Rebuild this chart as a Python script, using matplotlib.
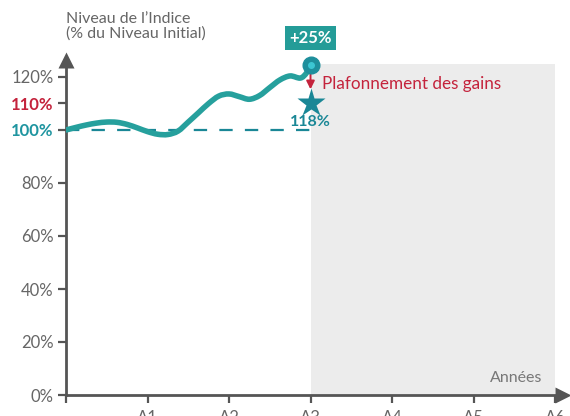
import matplotlib
matplotlib.use("Agg")
import matplotlib.pyplot as plt
from matplotlib.path import Path
from matplotlib.patches import PathPatch

plt.rcParams['font.family'] = ['Lato', 'DejaVu Sans']

# Data
years = [0.0, 0.125, 0.25, 0.375, 0.5, 0.625, 0.75, 0.875, 1.0, 1.125, 1.25, 1.375,
         1.5, 1.625, 1.75, 1.875, 2.0, 2.125, 2.25, 2.375, 2.5, 2.625, 2.75, 2.875,
         2.95, 3.0]
index_level = [100, 101.0, 101.9, 102.6, 103.0, 102.9, 102.1, 100.8, 99.4, 98.4, 98.3, 99.6,
               103.0, 106.5, 110.0, 112.8, 113.6, 112.6, 111.6, 113.0, 116.0, 118.9, 120.4, 119.6,
               121.5, 124.5]
final_year = 3.0
final_level = 124.5
cap_level = 110
initial_level = 100
xtick_pos = [0, 1, 2, 3, 4, 5, 6]
xtick_labels = ['', 'A1', 'A2', 'A3', 'A4', 'A5', 'A6']
ytick_pos = [0, 20, 40, 60, 80, 100, 110, 120]
ytick_labels = ['0%', '20%', '40%', '60%', '80%', '100%', '110%', '120%']
shade_start, shade_end, shade_top = 3, 6, 125

TEAL = '#26a09d'
TEAL_DARK = '#1a8796'
RED = '#c4233c'
GRAY = '#666666'
AXIS = '#555555'

fig = plt.figure(figsize=(5.7, 4.16), dpi=100)
ax = fig.add_axes([66/570, 21/416, 504/570, 344.5/416])
ax.set_xlim(0, 504/81.5)
ax.set_ylim(0, 130)

# shaded future region
ax.fill_between([shade_start, shade_end], 0, shade_top, color='#ececec', zorder=0, lw=0)

# dashed initial level
ax.plot([0, final_year], [initial_level, initial_level], color=TEAL_DARK, lw=1.6,
        dashes=(6, 5.5), zorder=2)

# index curve, drawn as a smooth Bezier path through the read points
pts = list(zip(years, index_level))
verts = [pts[0]]
codes = [Path.MOVETO]
n = len(pts)
for i in range(n - 1):
    p0 = pts[i - 1] if i > 0 else pts[i]
    p1 = pts[i]
    p2 = pts[i + 1]
    p3 = pts[i + 2] if i + 2 < n else pts[i + 1]
    c1 = (p1[0] + (p2[0] - p0[0]) / 6, p1[1] + (p2[1] - p0[1]) / 6)
    c2 = (p2[0] - (p3[0] - p1[0]) / 6, p2[1] - (p3[1] - p1[1]) / 6)
    verts += [c1, c2, p2]
    codes += [Path.CURVE4] * 3
ax.add_patch(PathPatch(Path(verts, codes), fc='none', ec=TEAL, lw=4,
                       capstyle='round', joinstyle='round', zorder=3))

# final point
ax.plot([final_year], [final_level], 'o', ms=12, color='#1e8f9c', zorder=5, clip_on=False)
ax.plot([final_year], [final_level], 'o', ms=4, color='#3cc6d3', zorder=6, clip_on=False)

# red arrow
ax.annotate('', xy=(final_year, 114.3), xytext=(final_year, 122.5),
            arrowprops=dict(arrowstyle='-|>', color=RED, lw=1.4, mutation_scale=12),
            zorder=4)

# star at cap
ax.plot([final_year], [cap_level], marker='*', ms=21, color=TEAL_DARK, zorder=5, mec='none')
ax.text(final_year, 103.0, '118%', color=TEAL_DARK, fontsize=11.5, fontweight='bold',
        ha='center', va='center', zorder=6)

ax.text(3.14, 117.3, 'Plafonnement des gains', color=RED, fontsize=12.3, ha='left', va='center')

ax.text(final_year, 134.8, '+25%', color='white', fontsize=12, fontweight='bold',
        ha='center', va='center', clip_on=False,
        bbox=dict(boxstyle='square,pad=0.25', fc='#249c98', ec='none'))

ax.text(5.84, 6.3, 'Années', color='#777777', fontsize=11.5, ha='right', va='center')

# axes styling
for s in ['top', 'right']:
    ax.spines[s].set_visible(False)
for s in ['left', 'bottom']:
    ax.spines[s].set_color(AXIS)
    ax.spines[s].set_linewidth(2)
ax.spines['left'].set_bounds(0, 124)
ax.spines['bottom'].set_bounds(0, 6.05)
ax.plot([0], [126.5], marker='^', ms=11, color=AXIS, clip_on=False, zorder=7, mec='none')
ax.plot([6.1], [0], marker='>', ms=11, color=AXIS, clip_on=False, zorder=7, mec='none')

ax.set_yticks(ytick_pos)
ax.set_yticklabels(ytick_labels)
ax.set_xticks(xtick_pos)
ax.set_xticklabels(xtick_labels)
ax.tick_params(axis='both', direction='out', length=6, width=1.6, color=AXIS,
               labelsize=12, labelcolor=GRAY)
ax.tick_params(axis='y', pad=3)
ax.tick_params(axis='x', pad=5)
for lab in ax.get_yticklabels():
    t = lab.get_text()
    if t == '100%':
        lab.set_color('#1f95a0'); lab.set_fontweight('bold')
    elif t == '110%':
        lab.set_color(RED); lab.set_fontweight('bold')

fig.text(66/570, 1 - 12/416, 'Niveau de l\u2019Indice\n(% du Niveau Initial)', color=GRAY,
         fontsize=11.5, ha='left', va='top', linespacing=1.05)

fig.savefig('out.png', dpi=100)
